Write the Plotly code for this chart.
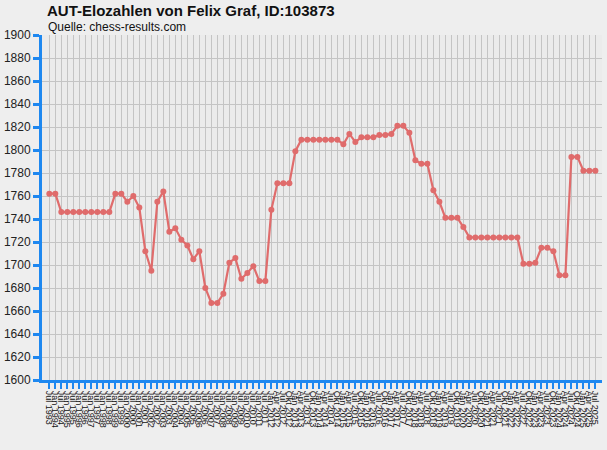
import plotly.graph_objects as go

# Elo-Verlauf laut chess-results.com
dates = [
    "Jul 1993",
    "Jan 1994", "Jul 1994", "Jan 1995", "Jul 1995", "Jan 1996", "Jul 1996",
    "Jan 1997", "Jul 1997", "Jan 1998", "Jul 1998", "Jan 1999", "Jul 1999",
    "Jan 2000", "Jul 2000", "Jan 2001", "Jul 2001", "Jan 2002", "Jul 2002",
    "Jan 2003", "Jul 2003", "Jan 2004", "Jul 2004", "Jan 2005", "Jul 2005",
    "Jan 2006", "Jul 2006", "Jan 2007", "Jul 2007", "Jan 2008", "Jul 2008",
    "Jan 2009", "Jul 2009", "Jan 2010", "Jul 2010", "Jan 2011", "Jul 2011",
    "Jan 2012", "Apr 2012", "Jul 2012", "Okt 2012",
    "Jan 2013", "Apr 2013", "Jul 2013", "Okt 2013",
    "Jan 2014", "Apr 2014", "Jul 2014", "Okt 2014",
    "Jan 2015", "Apr 2015", "Jul 2015", "Okt 2015",
    "Jan 2016", "Apr 2016", "Jul 2016", "Okt 2016",
    "Jan 2017", "Apr 2017", "Jul 2017", "Okt 2017",
    "Jan 2018", "Apr 2018", "Jul 2018", "Okt 2018",
    "Jan 2019", "Apr 2019", "Jul 2019", "Okt 2019",
    "Jan 2020", "Apr 2020", "Jul 2020", "Okt 2020",
    "Jan 2021", "Apr 2021", "Jul 2021", "Okt 2021",
    "Jan 2022", "Apr 2022", "Jul 2022", "Okt 2022",
    "Jan 2023", "Apr 2023", "Jul 2023", "Okt 2023",
    "Jan 2024", "Apr 2024", "Jul 2024", "Okt 2024",
    "Jan 2025", "Apr 2025", "Jul 2025",
]

elo = [
    1762, 1762, 1746, 1746, 1746, 1746, 1746, 1746, 1746, 1746,
    1746, 1762, 1762, 1755, 1760, 1750, 1712, 1695, 1755, 1764,
    1729, 1732, 1722, 1717, 1705, 1712, 1680, 1667, 1667, 1675,
    1702, 1706, 1688, 1693, 1699, 1686, 1686, 1748, 1771, 1771,
    1771, 1799, 1809, 1809, 1809, 1809, 1809, 1809, 1809, 1805,
    1814, 1807, 1811, 1811, 1811, 1813, 1813, 1814, 1821, 1821,
    1815, 1791, 1788, 1788, 1765, 1755, 1741, 1741, 1741, 1733,
    1724, 1724, 1724, 1724, 1724, 1724, 1724, 1724, 1724, 1701,
    1701, 1702, 1715, 1715, 1712, 1691, 1691, 1794, 1794, 1782,
    1782, 1782,
]

y_ticks = list(range(1600, 1901, 20))

idx = list(range(len(dates)))

blue = "#1E88F0"
red = "#E06666"

fig = go.Figure()
fig.add_trace(go.Scatter(
    x=idx, y=elo, mode="lines+markers",
    line=dict(color=red, width=2.2),
    marker=dict(color=red, size=6),
    opacity=0.95,
    hoverinfo="x+y",
    showlegend=False,
))

# Titel und Quelle
fig.add_annotation(
    text="<b>AUT-Elozahlen von Felix Graf, ID:103873</b>",
    xref="paper", yref="paper", x=0.005, y=1 + 24 / 345,
    xanchor="left", yanchor="middle", showarrow=False,
    font=dict(family="Liberation Sans, Arial", size=15, color="#111111"),
)
fig.add_annotation(
    text="Quelle: chess-results.com",
    xref="paper", yref="paper", x=0.007, y=1 + 8 / 345,
    xanchor="left", yanchor="middle", showarrow=False,
    font=dict(family="Liberation Sans, Arial", size=12, color="#111111"),
)

fig.update_layout(
    width=607, height=450,
    margin=dict(l=42, r=5, t=35, b=70, autoexpand=False),
    paper_bgcolor="#EEEEEE",
    plot_bgcolor="#EBEBEB",
    font=dict(family="Liberation Sans, Arial", color="#222222"),
)

fig.update_xaxes(
    range=[-1.22, 92.1],
    tickmode="array", tickvals=idx, ticktext=dates,
    tickangle=90, tickfont=dict(size=9, color="#111111"),
    showgrid=True, gridcolor="#C4C4C4", gridwidth=1,
    showline=True, linecolor=blue, linewidth=3,
    ticks="outside", ticklen=6, tickwidth=2, tickcolor=blue,
    zeroline=False, fixedrange=True, automargin=False,
)
fig.update_yaxes(
    range=[1600, 1900],
    tickmode="array", tickvals=y_ticks,
    tickfont=dict(size=12, color="#222222"),
    showgrid=True, gridcolor="#C4C4C4", gridwidth=1,
    showline=True, linecolor=blue, linewidth=3,
    ticks="outside", ticklen=6, tickwidth=3, tickcolor=blue,
    zeroline=False, fixedrange=True, automargin=False,
)

fig.write_html(
    "out.html",
    config={"displayModeBar": False},
    post_script="document.body.style.margin='0';",
)
